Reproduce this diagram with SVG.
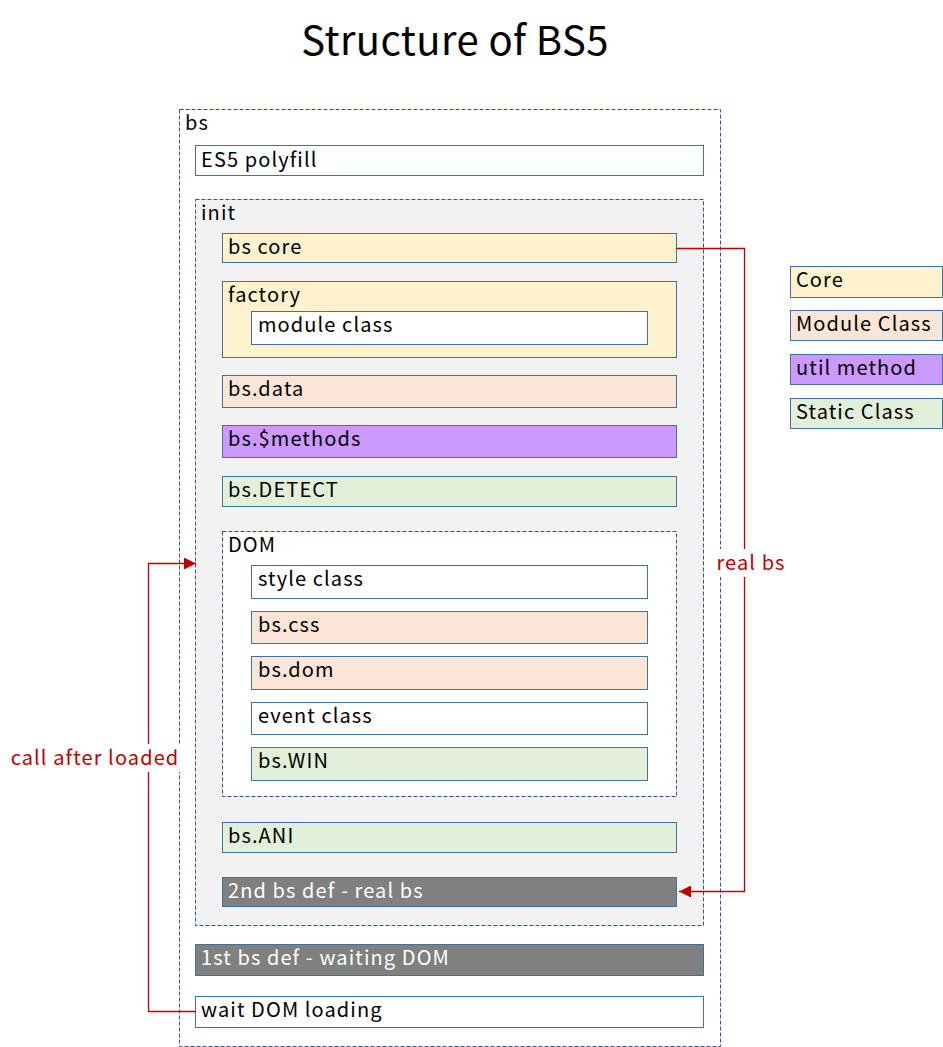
<svg xmlns="http://www.w3.org/2000/svg" width="943" height="1047" viewBox="0 0 943 1047">
<defs>
<style>
text{font-family:"Noto Sans CJK KR","Noto Sans",sans-serif;font-size:20px;fill:#000;letter-spacing:1.1px}
.b{stroke:#41719c;stroke-width:1}
.d{stroke:#2f5597;stroke-width:1;stroke-dasharray:4,2}
.core{fill:#fff2cc}.mod{fill:#fbe5d6}.util{fill:#cc99ff}.stat{fill:#e2f0d9}.wh{fill:#fff}.gr{fill:#808080}
.wt{fill:#fff}
.red{fill:#c00000}
.ln{fill:none;stroke:#c00000;stroke-width:1.3}
</style>
<marker id="ah" viewBox="0 0 10 10" refX="10" refY="5" markerWidth="12" markerHeight="12" markerUnits="userSpaceOnUse" orient="auto"><path d="M0,0L10,5L0,10z" fill="#c00000"/></marker>
</defs>
<rect width="943" height="1047" fill="#fff"/>
<text x="455" y="55" text-anchor="middle" style="font-size:40px;letter-spacing:0.4px">Structure of BS5</text>
<g id="bs"><rect x="179.5" y="109.5" width="541" height="937" fill="#fff" class="d"/><text x="185" y="130">bs</text></g>
<g id="es5"><rect x="195.5" y="145.5" width="508" height="30" class="b wh"/><text x="201" y="167">ES5 polyfill</text></g>
<g id="init"><rect x="195.5" y="199.5" width="508" height="726" fill="#f2f2f2" class="d"/><text x="201" y="220">init</text></g>
<g id="bscore"><rect x="222.5" y="233.5" width="454" height="29" class="b core"/><text x="228" y="254">bs core</text></g>
<g id="factory"><rect x="222.5" y="281.5" width="454" height="76" class="b core"/><text x="228" y="302">factory</text></g>
<g id="moduleclass"><rect x="251.5" y="311.5" width="396" height="33" class="b wh"/><text x="258" y="332">module class</text></g>
<g id="bsdata"><rect x="222.5" y="375.5" width="454" height="32" class="b mod"/><text x="228" y="396">bs.data</text></g>
<g id="methods"><rect x="222.5" y="425.5" width="454" height="32" class="b util"/><text x="228" y="446">bs.$methods</text></g>
<g id="detect"><rect x="222.5" y="476.5" width="454" height="30" class="b stat"/><text x="228" y="497">bs.DETECT</text></g>
<g id="dom"><rect x="222.5" y="531.5" width="454" height="265" fill="#fff" class="d"/><text x="228" y="552">DOM</text></g>
<g id="styleclass"><rect x="251.5" y="565.5" width="396" height="33" class="b wh"/><text x="258" y="586">style class</text></g>
<g id="bscss"><rect x="251.5" y="611.5" width="396" height="32" class="b mod"/><text x="258" y="632">bs.css</text></g>
<g id="bsdom"><rect x="251.5" y="656.5" width="396" height="33" class="b mod"/><text x="258" y="677">bs.dom</text></g>
<g id="eventclass"><rect x="251.5" y="702.5" width="396" height="32" class="b wh"/><text x="258" y="723">event class</text></g>
<g id="bswin"><rect x="251.5" y="747.5" width="396" height="33" class="b stat"/><text x="258" y="768">bs.WIN</text></g>
<g id="bsani"><rect x="222.5" y="822.5" width="454" height="30" class="b stat"/><text x="228" y="843">bs.ANI</text></g>
<g id="def2"><rect x="222.5" y="877.5" width="454" height="29" class="b gr"/><text x="228" y="898" class="wt">2nd bs def - real bs</text></g>
<g id="def1"><rect x="195.5" y="944.5" width="508" height="31" class="b gr"/><text x="201" y="965" class="wt">1st bs def - waiting DOM</text></g>
<g id="wait"><rect x="195.5" y="996.5" width="508" height="31" class="b wh"/><text x="201" y="1017">wait DOM loading</text></g>
<g id="legend-core"><rect x="790.5" y="266.5" width="152" height="31" class="b core"/><text x="796" y="287">Core</text></g>
<g id="legend-module"><rect x="790.5" y="310.5" width="152" height="30" class="b mod"/><text x="796" y="331">Module Class</text></g>
<g id="legend-util"><rect x="790.5" y="354.5" width="152" height="30" class="b util"/><text x="796" y="375">util method</text></g>
<g id="legend-static"><rect x="790.5" y="398.5" width="152" height="30" class="b stat"/><text x="796" y="419">Static Class</text></g>
<g id="connectors">
<path d="M676.5,248.5H744.5V891.5H679" class="ln" marker-end="url(#ah)"/>
<path d="M195.5,1011.5H148.5V563.5H196" class="ln" marker-end="url(#ah)"/>
<rect x="714" y="549" width="72" height="28" fill="#fff"/>
<text x="751" y="570" text-anchor="middle" class="red">real bs</text>
<rect x="10" y="744" width="170" height="28" fill="#fff"/>
<text x="95" y="765" text-anchor="middle" class="red">call after loaded</text>
</g>
</svg>
